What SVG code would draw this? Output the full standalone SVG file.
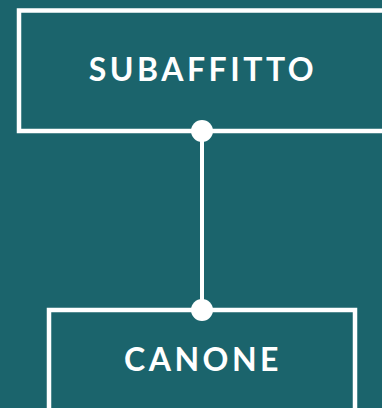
<svg xmlns="http://www.w3.org/2000/svg" width="382" height="408" viewBox="0 0 382 408">
<style>
.box{fill:none;stroke:#ffffff;stroke-width:4.5}
.lbl{fill:#ffffff;font-family:Lato,"Open Sans",sans-serif;font-weight:700;font-size:32px;letter-spacing:3.5px;text-anchor:middle}
</style>
<rect width="382" height="408" fill="#1b646c"/>
<g id="connectors">
<line x1="202" y1="131" x2="202" y2="310" stroke="#ffffff" stroke-width="4"/>
<circle cx="202" cy="131" r="11" fill="#ffffff"/>
<circle cx="202" cy="310" r="11" fill="#ffffff"/>
</g>
<g id="subaffitto">
<rect class="box" x="19" y="10.5" width="420" height="120.5"/>
<text class="lbl" x="203" y="81">SUBAFFITTO</text>
</g>
<g id="canone">
<rect class="box" x="49" y="310" width="306" height="130"/>
<text class="lbl" x="203" y="371">CANONE</text>
</g>
</svg>
